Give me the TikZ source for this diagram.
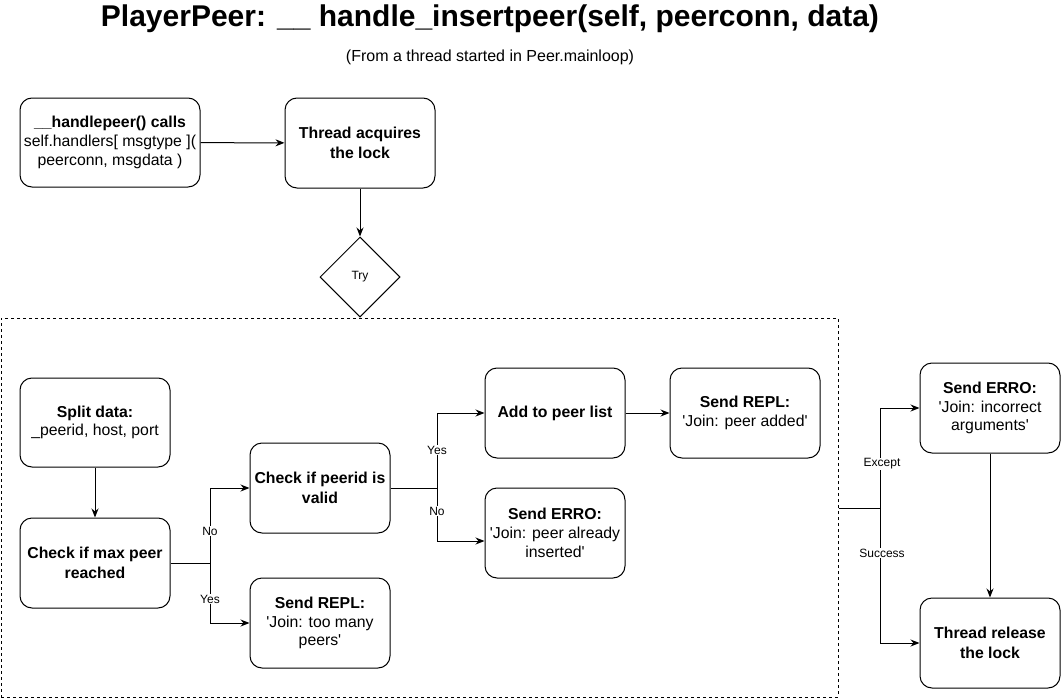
\documentclass[tikz,border=0pt]{standalone}
\usepackage{fontspec}
\setmainfont{Liberation Sans}
\usetikzlibrary{arrows.meta,shapes.geometric}
\newcommand{\q}{\textquotesingle}
\begin{document}
\begin{tikzpicture}[x=1pt,y=-1pt,
  box/.style={draw,rounded corners=12pt,line width=1pt,align=center,inner sep=0pt,
    font=\fontsize{15.8}{18.8}\selectfont},
  bbox/.style={box,font=\fontsize{15.8}{19.5}\selectfont\bfseries},
  arr/.style={-{Stealth[length=9pt,width=7pt]},line width=1pt},
  ln/.style={line width=1pt},
  lbl/.style={fill=white,inner sep=1pt,font=\fontsize{12}{14}\selectfont}]
\useasboundingbox (0,0) rectangle (1061,699);
% title
\node[font=\fontsize{30}{36}\selectfont\bfseries] (title) at (490,19) {PlayerPeer: \_\_ handle\_insertpeer(self, peerconn, data)};
\node[font=\fontsize{16}{19}\selectfont] (sub) at (490,57) {(From a thread started in Peer.mainloop)};
% top nodes
\node[box,minimum width=180pt,minimum height=89pt] (A) at (110,142.5)
  {\textbf{\_\_handlepeer() calls}\\self.handlers[ msgtype ](\\peerconn, msgdata )};
\node[bbox,minimum width=150pt,minimum height=90pt] (B) at (360,143)
  {Thread acquires\\the lock};
\node[draw,diamond,line width=1pt,minimum width=80pt,minimum height=80pt,inner sep=0pt,
  font=\fontsize{12}{14}\selectfont] (try) at (360,277) {Try};
% try block
\node[draw,dash pattern=on 3pt off 3pt,line width=1pt,minimum width=837pt,minimum height=379pt,inner sep=0pt] (blk) at (419.5,507.5) {};
\node[box,minimum width=150pt,minimum height=89pt] (split) at (95,422.5)
  {\textbf{Split data:}\\\_peerid, host, port};
\node[bbox,minimum width=150pt,minimum height=90pt] (max) at (95,563)
  {Check if max peer\\reached};
\node[bbox,minimum width=140pt,minimum height=90pt] (valid) at (320,488)
  {Check if peerid is\\valid};
\node[box,minimum width=140pt,minimum height=90pt] (repl1) at (320,623)
  {\textbf{Send REPL:}\\\q Join: too many\\peers\q};
\node[bbox,minimum width=140pt,minimum height=90pt] (add) at (555,413)
  {Add to peer list};
\node[box,minimum width=140pt,minimum height=90pt] (erro1) at (555,533)
  {\textbf{Send ERRO:}\\\q Join: peer already\\inserted\q};
\node[box,minimum width=150pt,minimum height=90pt] (repl2) at (745,413)
  {\textbf{Send REPL:}\\\q Join: peer added\q};
\node[box,minimum width=140pt,minimum height=90pt] (erro2) at (990,408)
  {\textbf{Send ERRO:}\\\q Join: incorrect\\arguments\q};
\node[bbox,minimum width=140pt,minimum height=90pt] (rel) at (990,643)
  {Thread release\\the lock};
% junctions
\coordinate (j1) at (210,563);
\coordinate (j2) at (437,488);
\coordinate (j3) at (880,508);
% connectors
\draw[arr] (A) -- (B);
\draw[arr] (B) -- (try);
\draw[arr] (split) -- (max);
\draw[ln] (max.east) -- (j1);
\draw[arr] (j1) |- (valid.west);
\draw[arr] (j1) |- (repl1.west);
\draw[ln] (valid.east) -- (j2);
\draw[arr] (j2) |- (add.west);
\draw[arr] (j2) |- ([yshift=-8pt]erro1.west);
\draw[arr] (add) -- (repl2);
\draw[ln] (blk.east |- j3) -- (j3);
\draw[arr] (j3) |- (erro2.west);
\draw[arr] (j3) |- (rel.west);
\draw[arr] (erro2) -- (rel);
% labels
\node[lbl] (lno1) at (210,531) {No};
\node[lbl] (lyes1) at (210,599) {Yes};
\node[lbl] (lyes2) at (437,450) {Yes};
\node[lbl] (lno2) at (437,511) {No};
\node[lbl] (lexc) at (882,464) {Except};
\node[lbl] (lsucc) at (882,553) {Success};
\end{tikzpicture}
\end{document}
